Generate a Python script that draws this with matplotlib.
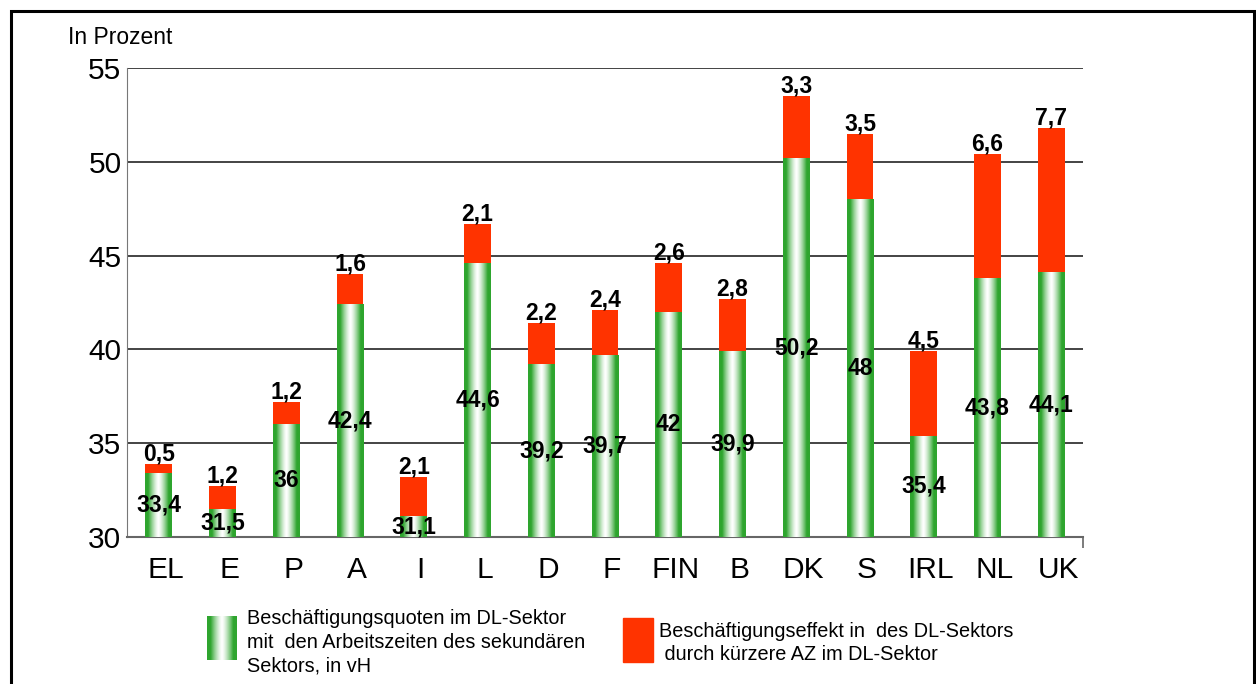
import numpy as np
import matplotlib
matplotlib.use('Agg')
import matplotlib.pyplot as plt
from matplotlib.patches import Rectangle
from matplotlib.transforms import offset_copy

plt.rcParams['font.family'] = ['Liberation Sans', 'DejaVu Sans']

# data
countries = ['EL', 'E', 'P', 'A', 'I', 'L', 'D', 'F', 'FIN', 'B', 'DK', 'S', 'IRL', 'NL', 'UK']
quote = [33.4, 31.5, 36, 42.4, 31.1, 44.6, 39.2, 39.7, 42, 39.9, 50.2, 48, 35.4, 43.8, 44.1]
effekt = [0.5, 1.2, 1.2, 1.6, 2.1, 2.1, 2.2, 2.4, 2.6, 2.8, 3.3, 3.5, 4.5, 6.6, 7.7]
legend_green = 'Beschäftigungsquoten im DL-Sektor\nmit  den Arbeitszeiten des sekundären\nSektors, in vH'
legend_red = 'Beschäftigungseffekt in  des DL-Sektors\n durch kürzere AZ im DL-Sektor'

RED = '#FF3300'
GREEN = np.array([46, 165, 46]) / 255.0


def fmt(v):
    return ('%g' % v).replace('.', ',')


def gradient(n=64):
    t = np.linspace(0, 1, n)
    d = np.abs(t - 0.5) * 2
    k = np.clip(d * 1.3, 0, 1) ** 1.4
    rgb = (1 - k)[:, None] * np.ones(3) + k[:, None] * GREEN
    return rgb[None, :, :]


W, H = 1256, 684
fig = plt.figure(figsize=(W / 100, H / 100), dpi=100)
ax = fig.add_axes([127 / W, 1 - 537 / H, (1083 - 127) / W, (537 - 68) / H])

x = np.arange(len(countries))
bw = 0.42
grad = gradient()

bars = ax.bar(x, quote, width=bw, color='none', edgecolor='none', zorder=3)
for b in bars:
    x0, w, h = b.get_x(), b.get_width(), b.get_height()
    ax.imshow(grad, extent=[x0, x0 + w, 0, h], aspect='auto', zorder=3,
              interpolation='bilinear')
ax.bar(x, effekt, bottom=quote, width=bw, color=RED, edgecolor='none', zorder=3)

ax.set_xlim(-0.5, len(countries) - 0.5)
ax.set_ylim(30, 55)
ax.set_yticks([30, 35, 40, 45, 50, 55])
ax.set_xticks(x)
ax.set_xticklabels(countries)
ax.set_xticks([len(countries) - 0.5], minor=True)
ax.tick_params(axis='both', which='major', length=0, labelsize=21.5)
ax.tick_params(axis='y', pad=4)
ax.tick_params(axis='x', pad=14)
ax.tick_params(axis='x', which='minor', length=8, color='#666', width=1.2)
for lbl in ax.get_xticklabels():
    lbl.set_transform(offset_copy(lbl.get_transform(), fig=fig, x=7, y=0, units='dots'))

ax.yaxis.grid(True, color='#111', lw=1.1)
ax.set_axisbelow(True)
for s in ['top', 'right']:
    ax.spines[s].set_visible(False)
ax.spines['left'].set_color('#777')
ax.spines['bottom'].set_color('#666')
ax.spines['bottom'].set_linewidth(1.5)

# value labels
for xi, q, e in zip(x, quote, effekt):
    ax.text(xi, (30 + q) / 2, fmt(q), ha='center', va='center', fontsize=16.5,
            fontweight='bold', zorder=5)
    ax.annotate(fmt(e), (xi, q + e), xytext=(0, -1), textcoords='offset points',
                ha='center', va='bottom', fontsize=16.5, fontweight='bold', zorder=5)

fig.text(68 / W, 1 - 37 / H, 'In Prozent', ha='left', va='center', fontsize=16.5)

# legend
lax = fig.add_axes([207 / W, 1 - 660 / H, 30 / W, 44 / H])
lax.imshow(grad, aspect='auto', interpolation='bilinear')
lax.axis('off')
fig.text(247 / W, 1 - 609 / H, legend_green, ha='left', va='top', fontsize=14.3,
         linespacing=1.3)
fig.patches.append(Rectangle((623 / W, 1 - 662 / H), 30 / W, 44 / H,
                             transform=fig.transFigure, color=RED))
fig.text(659 / W, 1 - 622 / H, legend_red, ha='left', va='top', fontsize=14.3,
         linespacing=1.3)

# frame around the chart
fig.patches.append(Rectangle((10.5 / W, -0.05), (1253.5 - 10.5) / W, 1.05 - 11 / H,
                             transform=fig.transFigure, fill=False, ec='black', lw=2.2))

fig.savefig('out.png', dpi=100)
